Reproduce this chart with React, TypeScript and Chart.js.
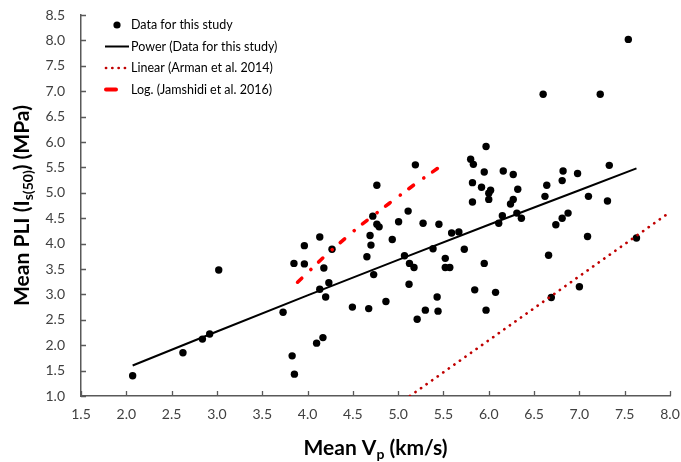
import React, { useEffect, useRef } from "react";
import { Chart, registerables } from "chart.js";

Chart.register(...registerables);

// Measured data (Mean Vp km/s, Mean PLI MPa)
const studyVp = [
  2.07, 2.625, 2.84, 2.92, 3.02, 3.73, 3.85, 3.965, 3.83, 3.855,
  4.18, 4.135, 4.235, 4.2, 4.17, 4.1, 4.495, 4.675, 4.865, 4.655,
  4.73, 5.07, 5.125, 5.175, 5.12, 5.43, 5.44, 5.3, 5.21, 5.52,
  5.52, 5.57, 5.19, 4.765, 4.72, 4.765, 4.79, 5.005, 5.11, 5.275,
  5.45, 5.59, 5.67, 4.135, 3.965, 4.27, 4.69, 4.935, 4.7, 5.385,
  5.97, 5.8, 5.83, 5.95, 6.16, 6.27, 5.82, 5.92, 6.02, 6.0,
  6.0, 6.32, 5.82, 6.27, 6.24, 6.15, 6.11, 6.31, 6.36, 6.64,
  6.62, 6.82, 6.81, 6.98, 7.33, 7.1, 7.31, 6.875, 6.81, 6.74,
  7.09, 7.63, 6.66, 5.95, 5.73, 5.845, 6.075, 5.97, 6.69, 7.0,
  7.54, 6.6, 7.23,
];
const studyPli = [
  1.4, 1.85, 2.12, 2.22, 3.48, 2.65, 3.61, 3.6, 1.79, 1.43,
  3.52, 3.1, 3.23, 2.95, 2.15, 2.04, 2.75, 2.72, 2.86, 3.74,
  3.39, 3.76, 3.61, 3.53, 3.2, 2.95, 2.67, 2.69, 2.51, 3.71,
  3.53, 3.53, 5.55, 5.15, 4.54, 4.38, 4.33, 4.43, 4.64, 4.4,
  4.38, 4.21, 4.23, 4.13, 3.96, 3.89, 4.16, 4.08, 3.97, 3.9,
  5.91, 5.66, 5.56, 5.41, 5.43, 5.36, 5.2, 5.11, 5.05, 4.99,
  4.87, 5.07, 4.82, 4.87, 4.78, 4.55, 4.4, 4.6, 4.5, 5.15,
  4.93, 5.43, 5.24, 5.38, 5.54, 4.93, 4.84, 4.6, 4.5, 4.37,
  4.14, 4.11, 3.77, 3.61, 3.89, 3.09, 3.04, 2.69, 2.94, 3.15,
  8.02, 6.94, 6.94,
];

// Power trendline (data for this study)
const powerVp = [2.07, 3.0, 4.0, 5.0, 6.0, 7.0, 7.63];
const powerPli = [1.6, 2.27, 2.98, 3.68, 4.37, 5.05, 5.48];

// Linear (Arman et al. 2014)
const armanVp = [5.13, 8.0];
const armanPli = [1.0, 4.62];

// Log. (Jamshidi et al. 2016)
const jamshidiVp = [3.89, 4.2, 4.55, 4.9, 5.2, 5.54];
const jamshidiPli = [3.24, 3.77, 4.31, 4.79, 5.19, 5.61];

const legendLabels = [
  "Data for this study",
  "Power (Data for this study)",
  "Linear (Arman et al. 2014)",
  "Log. (Jamshidi et al. 2016)",
];

const xTitleMain = "Mean V";
const xTitleSub = "p";
const xTitleRest = " (km/s)";
const yTitleMain = "Mean PLI (I";
const yTitleSub = "s(50)";
const yTitleRest = ") (MPa)";

const FONT = "Lato, 'Open Sans', sans-serif";

const toPts = (xs: number[], ys: number[]) => xs.map((x, i) => ({ x, y: ys[i] }));

const decorPlugin = {
  id: "decor",
  afterDraw(chart: any) {
    const ctx = chart.ctx as CanvasRenderingContext2D;
    const xs = chart.scales.x;
    const ys = chart.scales.y;
    const area = chart.chartArea;
    ctx.save();
    // inside tick marks
    ctx.strokeStyle = "#595959";
    ctx.lineWidth = 1.3;
    ctx.beginPath();
    xs.ticks.forEach((t: any) => {
      const px = Math.round(xs.getPixelForValue(t.value)) + 0.5;
      ctx.moveTo(px, area.bottom);
      ctx.lineTo(px, area.bottom - 5);
    });
    ys.ticks.forEach((t: any) => {
      const py = Math.round(ys.getPixelForValue(t.value)) + 0.5;
      ctx.moveTo(area.left, py);
      ctx.lineTo(area.left + 5, py);
    });
    ctx.stroke();

    // legend
    const rowsY = [25, 46.5, 68, 89.5];
    ctx.font = "12.5px " + FONT;
    ctx.fillStyle = "#000";
    ctx.textBaseline = "middle";
    ctx.textAlign = "left";
    legendLabels.forEach((lab, i) => ctx.fillText(lab, 131, rowsY[i]));
    // marker
    ctx.beginPath();
    ctx.arc(117, rowsY[0], 3.6, 0, Math.PI * 2);
    ctx.fill();
    // power line
    ctx.strokeStyle = "#000";
    ctx.lineWidth = 2;
    ctx.beginPath();
    ctx.moveTo(105, rowsY[1]);
    ctx.lineTo(129, rowsY[1]);
    ctx.stroke();
    // dotted
    ctx.strokeStyle = "#c00000";
    ctx.lineWidth = 2.7;
    ctx.lineCap = "round";
    ctx.setLineDash([0.1, 6.2]);
    ctx.beginPath();
    ctx.moveTo(106, rowsY[2]);
    ctx.lineTo(129, rowsY[2]);
    ctx.stroke();
    // dash
    ctx.setLineDash([]);
    ctx.strokeStyle = "#ff0000";
    ctx.lineWidth = 4;
    ctx.beginPath();
    ctx.moveTo(106, rowsY[3]);
    ctx.lineTo(116, rowsY[3]);
    ctx.stroke();

    // axis titles
    ctx.fillStyle = "#000";
    ctx.textBaseline = "alphabetic";
    const big = "bold 21px " + FONT;
    const small = "bold 14px " + FONT;
    // x title
    ctx.font = big;
    const w1 = ctx.measureText(xTitleMain).width;
    const w3 = ctx.measureText(xTitleRest).width;
    ctx.font = small;
    const w2 = ctx.measureText(xTitleSub).width;
    const cx = (area.left + area.right) / 2;
    let sx = cx - (w1 + w2 + w3) / 2;
    const by = 455;
    ctx.font = big;
    ctx.fillText(xTitleMain, sx, by);
    ctx.font = small;
    ctx.fillText(xTitleSub, sx + w1, by + 4);
    ctx.font = big;
    ctx.fillText(xTitleRest, sx + w1 + w2, by);

    // y title
    ctx.translate(29, (area.top + area.bottom) / 2);
    ctx.rotate(-Math.PI / 2);
    ctx.font = big;
    const v1 = ctx.measureText(yTitleMain).width;
    const v3 = ctx.measureText(yTitleRest).width;
    ctx.font = small;
    const v2 = ctx.measureText(yTitleSub).width;
    sx = -(v1 + v2 + v3) / 2;
    ctx.font = big;
    ctx.fillText(yTitleMain, sx, 0);
    ctx.font = small;
    ctx.fillText(yTitleSub, sx + v1, 4);
    ctx.font = big;
    ctx.fillText(yTitleRest, sx + v1 + v2, 0);
    ctx.restore();
  },
};

export default function App() {
  const ref = useRef<HTMLCanvasElement>(null);
  useEffect(() => {
    if (!ref.current) return;
    const chart = new Chart(ref.current, {
      type: "scatter",
      data: {
        datasets: [
          {
            label: legendLabels[3],
            data: toPts(jamshidiVp, jamshidiPli),
            showLine: true,
            borderColor: "#ff0000",
            borderWidth: 3.6,
            borderCapStyle: "round",
            borderDash: [5.8, 12.6, 0.1, 10.6],
            pointRadius: 0,
            fill: false,
            order: 1,
          } as any,
          {
            label: legendLabels[2],
            data: toPts(armanVp, armanPli),
            showLine: true,
            borderColor: "#c00000",
            borderWidth: 2.7,
            borderCapStyle: "round",
            borderDash: [0.1, 6.7],
            pointRadius: 0,
            fill: false,
            order: 2,
          } as any,
          {
            label: legendLabels[1],
            data: toPts(powerVp, powerPli),
            showLine: true,
            borderColor: "#000000",
            borderWidth: 2,
            pointRadius: 0,
            fill: false,
            order: 3,
          } as any,
          {
            label: legendLabels[0],
            data: toPts(studyVp, studyPli),
            backgroundColor: "#000000",
            borderWidth: 0,
            pointRadius: 3.7,
            order: 4,
          } as any,
        ],
      },
      options: {
        animation: false,
        responsive: false,
        layout: { padding: { top: 15, right: 11, left: 0, bottom: 0 } },
        plugins: { legend: { display: false }, tooltip: { enabled: false } },
        scales: {
          x: {
            type: "linear",
            min: 1.5,
            max: 8.0,
            grid: { display: false, drawTicks: false },
            border: { display: true, color: "#595959", width: 1.5 },
            ticks: {
              stepSize: 0.5,
              padding: 10,
              color: "#404040",
              font: { family: FONT, size: 14 },
              callback: (v: any) => Number(v).toFixed(1),
            },
            afterFit: (s: any) => {
              s.height = 66;
              s.paddingLeft = 0;
              s.paddingRight = 0;
            },
          },
          y: {
            type: "linear",
            min: 1.0,
            max: 8.5,
            grid: { display: false, drawTicks: false },
            border: { display: true, color: "#595959", width: 1.5 },
            ticks: {
              stepSize: 0.5,
              padding: 16,
              color: "#404040",
              font: { family: FONT, size: 14 },
              callback: (v: any) => Number(v).toFixed(1),
            },
            afterFit: (s: any) => {
              s.width = 81;
              s.paddingTop = 0;
              s.paddingBottom = 0;
            },
          },
        },
      } as any,
      plugins: [decorPlugin],
    });
    return () => chart.destroy();
  }, []);
  return (
    <div style={{ position: "fixed", left: 0, top: 0, width: 681, height: 462, background: "#fff" }}>
      <canvas ref={ref} width={681} height={462} style={{ display: "block" }} />
    </div>
  );
}
